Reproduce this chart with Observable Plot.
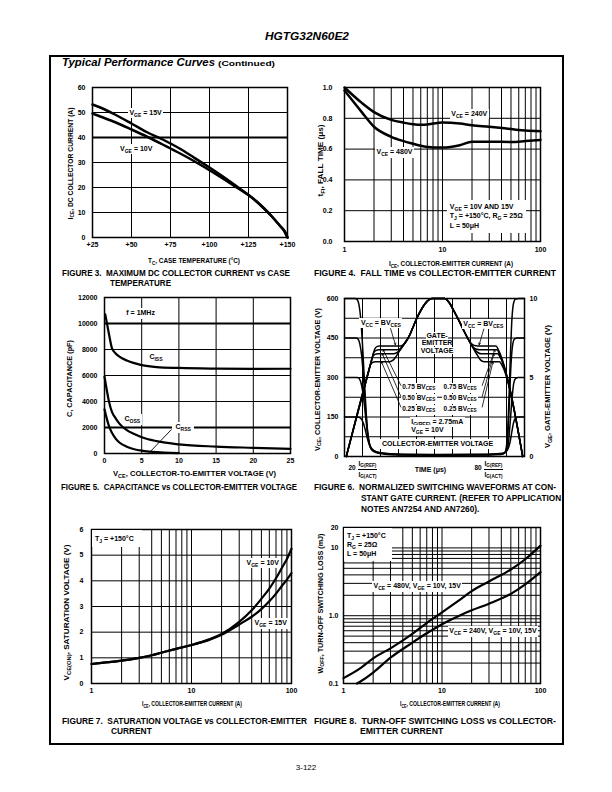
<!DOCTYPE html>
<html><head><meta charset="utf-8">
<script src="https://cdn.jsdelivr.net/npm/d3@7"></script>
<script src="https://cdn.jsdelivr.net/npm/@observablehq/plot@0.6"></script>
<style>
html,body{margin:0;padding:0;background:#fff;}
#page{position:relative;width:612px;height:792px;overflow:hidden;font-family:"Liberation Sans",Arial,Helvetica,sans-serif;color:#000;}
.lbl{position:absolute;white-space:nowrap;line-height:1;font-weight:bold;}
.lbl sub{font-size:72%;vertical-align:-0.3em;line-height:0;}
.frac{display:inline-block;vertical-align:middle;text-align:center;line-height:1.1;}
.frac .n{display:block;border-bottom:0.9px solid #000;padding:0 1px 1px;}
.frac .d{display:block;padding-top:1px;}
.box{position:absolute;border:2px solid #000;box-sizing:border-box;}
</style></head><body><div id="page"></div><script>
// ---------------- DATA ----------------
// Figure 3: max DC collector current vs case temperature
const fig3Temp = [25, 30, 40, 50, 60, 70, 75, 80, 90, 100, 110, 120, 125, 130, 135, 140, 145, 148, 150];
const fig3Vge15 = [53.2, 52.0, 49.0, 45.6, 42.1, 39.2, 37.6, 35.9, 32.0, 28.0, 23.8, 19.3, 17.0, 14.5, 11.6, 8.4, 4.8, 2.6, 0];
const fig3Vge10 = [49.6, 48.4, 46.0, 43.2, 40.3, 37.2, 35.6, 34.0, 30.6, 26.9, 23.0, 19.0, 17.0, 14.5, 11.6, 8.4, 4.8, 2.6, 0];
const fig3XTicks = [25, 50, 75, 100, 125, 150];
const fig3YTicks = [0, 10, 20, 30, 40, 50, 60];
const fig3GridX = [50, 75, 100, 125];
const fig3GridY = [10, 20, 30, 50];
const fig3BoldGridY = [40];

// Figure 4: fall time vs collector-emitter current
const fig4Ice = [1, 1.5, 2, 3, 4, 5, 6, 7, 8, 10, 15, 20, 30, 50, 70, 100];
const fig4Vce240 = [1.0, 0.9, 0.84, 0.79, 0.772, 0.762, 0.758, 0.76, 0.766, 0.772, 0.766, 0.755, 0.745, 0.73, 0.72, 0.716];
const fig4Vce480 = [0.98, 0.84, 0.745, 0.68, 0.652, 0.635, 0.622, 0.614, 0.61, 0.61, 0.625, 0.648, 0.648, 0.646, 0.652, 0.66];
const logTicks = [1, 10, 100];
const logGrid = [2, 3, 4, 5, 6, 7, 8, 9, 10, 20, 30, 40, 50, 60, 70, 80, 90];
const fig4YTicks = [0, 0.2, 0.4, 0.6, 0.8, 1.0];
const fig4GridY = [0.2, 0.4, 0.6, 0.8];

// Figure 5: capacitance vs VCE
const fig5Ciss = [[0.1, 10700], [0.5, 9500], [0.8, 8600], [1, 8100], [1.5, 7700], [2, 7450], [3, 7150], [4, 6950], [5, 6800], [7, 6650], [10, 6580], [15, 6530], [20, 6510], [25, 6520]];
const fig5Coss = [[0, 5900], [0.3, 4900], [0.6, 4000], [1, 3200], [1.5, 2700], [2, 2300], [3, 1800], [4, 1500], [5, 1250], [7, 950], [10, 700], [15, 530], [20, 440], [25, 360]];
const fig5Crss = [[0, 3400], [0.3, 2700], [0.6, 2100], [1, 1600], [1.5, 1150], [2, 850], [3, 520], [4, 330], [5, 220], [6, 150], [7, 100], [8, 60], [10, 30]];
const fig5XTicks = [0, 5, 10, 15, 20, 25];
const fig5YTicks = [0, 2000, 4000, 6000, 8000, 10000, 12000];
const fig5GridX = [5, 10, 15, 20];
const fig5GridY = [4000, 6000, 8000];
const fig5BoldGridY = [2000, 10000];
const fig5CrssLeader = [{x1: 9.0, y1: 1850, x2: 6.2, y2: 170}];

// Figure 6: normalized switching waveforms (time in grid units, VCE in V)
const fig6VceBV = [[0,600],[6,600],[7,596],[8,578],[9,525],[10,425],[11,295],[12,170],[13,85],[14,42],[15.5,22],[18,14],[22,9],[30,6],[50,5],[80,6],[87,8],[89,14],[90,40],[91,150],[92,350],[93,520],[94,585],[95,598],[97,600],[100,600]];
const fig6Vce75 = [[0,450],[6.5,450],[7.5,446],[8.5,428],[9.5,385],[10.5,305],[11.5,205],[12.5,115],[13.5,58],[15,30],[17,19],[21,12],[28,8],[50,6],[80,7],[87.5,10],[89.5,18],[90.5,55],[91.5,190],[92.5,350],[93.5,428],[94.5,447],[96,450],[100,450]];
const fig6Vce50 = [[0,300],[7,300],[8,297],[9,284],[10,252],[11,198],[12,133],[13,78],[14,44],[15.5,27],[18,17],[23,11],[30,8],[50,7],[80,8],[88,11],[90,22],[91,48],[92,125],[93,215],[94,278],[95,296],[96.5,300],[100,300]];
const fig6Vce25 = [[0,150],[7.5,150],[8.5,148],[9.5,141],[10.5,126],[11.5,102],[12.5,74],[13.5,50],[14.5,34],[16,23],[19,15],[24,11],[32,9],[50,8],[80,9],[88.5,12],[90.5,24],[92,55],[93,95],[94,130],[95,146],[96.5,150],[100,150]];
// gate voltage on the left scale (60 per volt)
const fig6GateBV = [[1,0],[15.5,377],[16.8,408],[18.2,418],[19.5,420],[31,420],[33,426],[35,444],[36.5,465],[38,490],[40,522],[43,562],[46,590],[48.5,600],[55.5,600],[58,586],[61,550],[64,510],[67,468],[68.5,448],[70,432],[72,422],[74,420],[84.2,420],[85.5,405],[99,0]];
const fig6Gate75 = [[1,0],[15,364],[16.3,395],[17.6,403],[19,405],[29,405],[31,410],[33.5,430],[36.5,465],[38,490],[40,522],[43,562],[46,590],[48.5,600],[55.5,600],[58,586],[61,550],[64,510],[67,468],[69.5,437],[71.5,415],[73.5,407],[75,405],[84.8,405],[86,390],[99,0]];
const fig6Gate50 = [[1,0],[14.5,351],[15.7,381],[17,388],[18.5,390],[27.5,390],[29.5,396],[32.5,420],[36.5,465],[38,490],[40,522],[43,562],[46,590],[48.5,600],[55.5,600],[58,586],[61,550],[64,510],[67,468],[70,430],[72.5,404],[74.5,393],[76,390],[85.2,390],[86.4,378],[99,0]];
const fig6Gate25 = [[1,0],[13.3,320],[14.5,350],[15.8,358],[17.3,360],[25,360],[27,366],[30.5,400],[33.5,432],[36.5,465],[38,490],[40,522],[43,562],[46,590],[48.5,600],[55.5,600],[58,586],[61,550],[64,510],[67,468],[70,430],[73,394],[75.5,367],[77,361],[78.5,360],[86.2,360],[87.4,348],[99,0]];
const fig6LeftTicks = [0, 150, 300, 450, 600];
const fig6RightTicks = [0, 300, 600];
const fig6GridX = [10, 20, 30, 40, 50, 60, 70, 80, 90];
const fig6GridY = [75, 150, 225, 300, 375, 450, 525];
const fig6Arrows = [
  {x1: 25.6, y1: 486, x2: 28.3, y2: 424}, {x1: 77.4, y1: 484, x2: 74.8, y2: 424},
  {x1: 31.3, y1: 270, x2: 21.5, y2: 405}, {x1: 31.3, y1: 228, x2: 21, y2: 390}, {x1: 31.3, y1: 188, x2: 20.5, y2: 360},
  {x1: 76.5, y1: 270, x2: 83.5, y2: 405}, {x1: 76.5, y1: 228, x2: 83, y2: 390}, {x1: 76.5, y1: 188, x2: 82.5, y2: 360}
];

// Figure 7: saturation voltage vs ICE
const fig7Ice = [1, 1.5, 2, 3, 4, 5, 7, 10, 15, 20, 30, 40, 50, 60, 70, 80, 90, 100];
const fig7Vge10 = [0.76, 0.83, 0.89, 1.0, 1.1, 1.2, 1.35, 1.5, 1.72, 1.93, 2.4, 2.85, 3.3, 3.7, 4.1, 4.5, 4.85, 5.25];
const fig7Vge15 = [0.76, 0.83, 0.89, 1.0, 1.1, 1.2, 1.35, 1.5, 1.7, 1.9, 2.3, 2.6, 2.9, 3.2, 3.5, 3.8, 4.05, 4.3];
const fig7YTicks = [0, 1, 2, 3, 4, 5, 6];
const fig7GridY = [1, 2, 3, 4, 5];

// Figure 8: turn-off switching loss vs ICE
const fig8Ice480 = [1, 1.5, 2, 3, 5, 7, 10, 15, 20, 30, 50, 70, 100];
const fig8Vce480 = [0.12, 0.17, 0.235, 0.33, 0.54, 0.78, 1.12, 1.7, 2.3, 3.2, 4.8, 6.8, 10.8];
const fig8Ice240 = [1.37, 1.5, 2, 3, 5, 7, 10, 15, 20, 30, 50, 70, 100];
const fig8Vce240 = [0.1, 0.108, 0.145, 0.24, 0.4, 0.55, 0.75, 1.0, 1.2, 1.5, 2.1, 2.9, 4.4];
const fig8YTicks = [0.1, 1, 10, 20];
const fig8GridY = [0.2, 0.3, 0.4, 0.5, 0.6, 0.7, 0.8, 0.9, 1, 2, 3, 4, 5, 6, 7, 8, 9, 10];

// ---------------- HELPERS ----------------
const page = document.getElementById('page');
const FONT = '"Liberation Sans", Arial, Helvetica, sans-serif';
const CAP = 9;   // caption font size
const TIT = 7;   // axis title font size
const ANN = 7;   // annotation font size

function txt(html, x, y, o = {}) {
  const d = document.createElement('div');
  d.className = 'lbl';
  d.innerHTML = html;
  d.style.fontSize = (o.size || ANN) + 'px';
  if (o.italic) d.style.fontStyle = 'italic';
  if (o.normal) d.style.fontWeight = 'normal';
  if (o.bg) { d.style.background = '#fff'; d.style.padding = o.pad || '1px 1.5px 2.5px 1.5px'; }
  if (o.lh) d.style.lineHeight = o.lh;
  page.appendChild(d);
  const r = d.getBoundingClientRect();
  const w = r.width, h = r.height;
  const sx = o.width ? o.width / w : (o.sx || 1);
  const ax = o.anchor === 'middle' ? 0.5 : o.anchor === 'end' ? 1 : 0;
  const ay = o.valign === 'top' ? 0 : 0.5;
  const dy = (o.bg && !o.pad) ? 0.75 : 0;
  if (o.rotate) {
    d.style.left = (x - w / 2) + 'px';
    d.style.top = (y - h / 2) + 'px';
    d.style.transformOrigin = '50% 50%';
    d.style.transform = `rotate(-90deg) scaleX(${sx})`;
  } else {
    d.style.left = (x - ax * w * sx) + 'px';
    d.style.top = (y - ay * h + dy) + 'px';
    d.style.transformOrigin = '0 0';
    d.style.transform = `scaleX(${sx})`;
  }
  return sx;
}

function mkPlot(box, cfg) {
  const p = Plot.plot({
    width: box.w, height: box.h,
    marginLeft: box.ml, marginRight: box.mr, marginTop: box.mt, marginBottom: box.mb,
    x: Object.assign({axis: null}, cfg.x), y: Object.assign({axis: null}, cfg.y),
    style: `font-family:${FONT};font-size:7px;font-weight:bold;background:transparent;overflow:visible;color:#000;`,
    marks: cfg.marks
  });
  p.style.position = 'absolute';
  p.style.left = box.left + 'px';
  p.style.top = box.top + 'px';
  page.appendChild(p);
  const sx = p.scale('x'), sy = p.scale('y');
  p.at = (xv, yv) => [box.left + sx.apply(xv), box.top + sy.apply(yv)];
  return p;
}
const pairs = (xs, ys) => xs.map((x, i) => ({x, y: ys[i]}));
const pts = (arr) => arr.map(([x, y]) => ({x, y}));
const G = {stroke: '#000', strokeWidth: 1};
const axX = (ticks, pad, fmt) => Plot.axisX({ticks, tickSize: 0, tickPadding: pad, tickFormat: fmt || (d => String(d)), label: null});
const axY = (ticks, pad, fmt, anchor) => Plot.axisY({ticks, anchor: anchor || 'left', tickSize: 0, tickPadding: pad, tickFormat: fmt || (d => String(d)), label: null});
const frame = Plot.frame({stroke: '#000', strokeWidth: 1.5});

// ---------------- PAGE ----------------
const fr = document.createElement('div'); fr.className = 'box';
Object.assign(fr.style, {left: '49px', top: '55px', width: '515px', height: '690px'});
page.appendChild(fr);
txt('HGTG32N60E2', 307, 37, {size: 11.5, italic: true, anchor: 'middle', width: 84});
txt('Typical Performance Curves', 62, 63, {size: 11.5, italic: true, width: 153});
txt('(Continued)', 218, 64, {size: 8, width: 57});
txt('3-122', 306, 768, {size: 8, normal: true, anchor: 'middle'});

// ---------- Figure 3 ----------
const p3 = mkPlot({left: 52, top: 80, w: 245, h: 175, ml: 40, mr: 10, mt: 7, mb: 18}, {
  x: {domain: [25, 150]}, y: {domain: [0, 60]},
  marks: [
    Plot.ruleX(fig3GridX, G), Plot.ruleY(fig3GridY, G), Plot.ruleY(fig3BoldGridY, {stroke: '#000', strokeWidth: 2.2}),
    frame,
    Plot.line(pairs(fig3Temp, fig3Vge15), {x: 'x', y: 'y', strokeWidth: 2.5, curve: 'monotone-x'}),
    Plot.line(pairs(fig3Temp, fig3Vge10), {x: 'x', y: 'y', strokeWidth: 2.5, curve: 'monotone-x'}),
    axX(fig3XTicks, 4.5, d => '+' + d), axY(fig3YTicks, 7)
  ]
});
{ let [x, y] = p3.at(48, 50); txt('V<sub>GE</sub> = 15V', x, y, {bg: true});
  [x, y] = p3.at(42, 35.5); txt('V<sub>GE</sub> = 10V', x, y, {bg: true}); }
txt('T<sub>C</sub>, CASE TEMPERATURE (°C)', 194, 260, {size: TIT, anchor: 'middle', width: 92});
txt('I<sub>CE</sub>, DC COLLECTOR CURRENT (A)', 70, 163, {size: TIT, rotate: true, width: 112});
{ const s = txt('FIGURE 3.&nbsp; MAXIMUM DC COLLECTOR CURRENT vs CASE', 62, 273, {size: CAP, width: 228});
  txt('TEMPERATURE', 110, 283, {size: CAP, sx: s}); }

// ---------- Figure 4 ----------
const p4 = mkPlot({left: 304, top: 80, w: 250, h: 175, ml: 40, mr: 14, mt: 7, mb: 14}, {
  x: {type: 'log', domain: [1, 100]}, y: {domain: [0, 1]},
  marks: [
    Plot.ruleX(logGrid, G), Plot.ruleY(fig4GridY, G), frame,
    Plot.line(pairs(fig4Ice, fig4Vce240), {x: 'x', y: 'y', strokeWidth: 2.5, curve: 'monotone-x'}),
    Plot.line(pairs(fig4Ice, fig4Vce480), {x: 'x', y: 'y', strokeWidth: 2.5, curve: 'monotone-x'}),
    axX(logTicks, 5.5), axY(fig4YTicks, 12, d3.format('.1f'))
  ]
});
{ let [x, y] = p4.at(12, 0.83); txt('V<sub>CE</sub> = 240V', x, y, {bg: true});
  [x, y] = p4.at(2.07, 0.578); txt('V<sub>CE</sub> = 480V', x, y, {bg: true});
  [x, y] = p4.at(11.2, 0.268); txt('V<sub>GE</sub> = 10V AND 15V<br>T<sub>J</sub> = +150°C, R<sub>G</sub> = 25Ω<br>L = 50μH', x, y, {bg: true, valign: 'top', lh: '9.5px', pad: '2px 3px 3px 3px'}); }
txt('I<sub>CE</sub>, COLLECTOR-EMITTER CURRENT (A)', 451, 263, {size: TIT, anchor: 'middle', width: 124});
txt('t<sub>FI</sub>, FALL TIME (μs)', 320.5, 160, {size: TIT, rotate: true, width: 72});
txt('FIGURE 4.&nbsp; FALL TIME vs COLLECTOR-EMITTER CURRENT', 314, 273, {size: CAP, width: 242});

// ---------- Figure 5 ----------
const p5 = mkPlot({left: 64, top: 290, w: 236, h: 180, ml: 40, mr: 10, mt: 7, mb: 17}, {
  x: {domain: [0, 25]}, y: {domain: [0, 12000]},
  marks: [
    Plot.ruleX(fig5GridX, G), Plot.ruleY(fig5GridY, G), Plot.ruleY(fig5BoldGridY, {stroke: '#000', strokeWidth: 2.2}),
    frame,
    Plot.line(pts(fig5Ciss), {x: 'x', y: 'y', strokeWidth: 2.2, curve: 'monotone-x'}),
    Plot.line(pts(fig5Coss), {x: 'x', y: 'y', strokeWidth: 2.2, curve: 'monotone-x'}),
    Plot.line(pts(fig5Crss), {x: 'x', y: 'y', strokeWidth: 2.2, curve: 'monotone-x'}),
    Plot.link(fig5CrssLeader, {x1: 'x1', y1: 'y1', x2: 'x2', y2: 'y2', stroke: '#000', strokeWidth: 0.9}),
    axX(fig5XTicks, 5), axY(fig5YTicks, 7)
  ]
});
{ let [x, y] = p5.at(2.8, 10770); txt('f = 1MHz', x, y, {bg: true});
  [x, y] = p5.at(5.9, 7400); txt('C<sub>ISS</sub>', x, y, {bg: true});
  [x, y] = p5.at(2.55, 2650); txt('C<sub>OSS</sub>', x, y, {bg: true});
  [x, y] = p5.at(9.2, 2000); txt('C<sub>RSS</sub>', x, y, {bg: true, pad: '1px 3px 3px 3px'}); }
txt('V<sub>CE</sub>, COLLECTOR-TO-EMITTER VOLTAGE (V)', 194, 473, {size: TIT, anchor: 'middle', width: 163});
txt('C, CAPACITANCE (pF)', 69, 378, {size: TIT, rotate: true, width: 77});
txt('FIGURE 5.&nbsp; CAPACITANCE vs COLLECTOR-EMITTER VOLTAGE', 61, 487, {size: CAP, width: 236});

// ---------- Figure 6 ----------
const p6 = mkPlot({left: 304, top: 290, w: 250, h: 175, ml: 40, mr: 30, mt: 8, mb: 9}, {
  x: {domain: [0, 100]}, y: {domain: [0, 600]},
  marks: [
    Plot.ruleX(fig6GridX, G), Plot.ruleY(fig6GridY, G), frame,
    ...[fig6VceBV, fig6Vce75, fig6Vce50, fig6Vce25, fig6GateBV, fig6Gate75, fig6Gate50, fig6Gate25].map(s =>
      Plot.line(pts(s), {x: 'x', y: 'y', strokeWidth: 1.5, curve: 'monotone-x'})),
    axY(fig6LeftTicks, 6), axY(fig6RightTicks, 5, d => String(d / 60), 'right')
  ]
});
{ const L = (html, xv, yv, o = {}) => { const [x, y] = p6.at(xv, yv); return txt(html, x, y, Object.assign({bg: true}, o)); };
  L('V<sub>CC</sub> = BV<sub>CES</sub>', 20.5, 508, {anchor: 'middle'});
  L('V<sub>CC</sub> = BV<sub>CES</sub>', 77.4, 505, {anchor: 'middle'});
  L('GATE-', 51.7, 458, {anchor: 'middle', pad: '0'});
  L('EMITTER', 51.7, 430, {anchor: 'middle', pad: '0'});
  L('VOLTAGE', 51.7, 402, {anchor: 'middle', pad: '0'});
  const bv = {size: 6.5};
  L('0.75 BV<sub>CES</sub>', 31.5, 260, bv); L('0.75 BV<sub>CES</sub>', 54.5, 260, bv);
  L('0.50 BV<sub>CES</sub>', 31.5, 218, bv); L('0.50 BV<sub>CES</sub>', 54.5, 218, bv);
  L('0.25 BV<sub>CES</sub>', 31.5, 177, bv); L('0.25 BV<sub>CES</sub>', 54.5, 177, bv);
  L('I<sub>G(REF)</sub> = 2.75mA', 36.5, 132);
  L('V<sub>GE</sub> = 10V', 36.5, 99);
  L('COLLECTOR-EMITTER VOLTAGE', 52, 48, {anchor: 'middle'});
  const yb = p6.at(0, 0)[1] + 13;
  const frac = '<span class="frac"><span class="n">I<sub>G(REF)</sub></span><span class="d">I<sub>G(ACT)</sub></span></span>';
  txt('20 ' + frac, p6.at(2.5, 0)[0], yb, {size: 6.5});
  txt('TIME (μs)', p6.at(48, 0)[0], yb, {anchor: 'middle'});
  txt('80 ' + frac, p6.at(72.5, 0)[0], yb, {size: 6.5});
}
{ const svg = Plot.plot({
    width: 250, height: 175, marginLeft: 40, marginRight: 30, marginTop: 8, marginBottom: 9,
    x: {domain: [0, 100], axis: null}, y: {domain: [0, 600], axis: null},
    style: 'background:transparent;overflow:visible;',
    marks: [Plot.arrow(fig6Arrows, {x1: 'x1', y1: 'y1', x2: 'x2', y2: 'y2', stroke: '#000', strokeWidth: 0.8, headLength: 3.5})]
  });
  Object.assign(svg.style, {position: 'absolute', left: '304px', top: '290px'});
  page.appendChild(svg); }
txt('V<sub>CE</sub>, COLLECTOR-EMITTER VOLTAGE (V)', 317, 379, {size: TIT, rotate: true, width: 143});
txt('V<sub>GE</sub>, GATE-EMITTER VOLTAGE (V)', 548, 386, {size: TIT, rotate: true, width: 123});
{ const s = txt('FIGURE 6.&nbsp; NORMALIZED SWITCHING WAVEFORMS AT CON-', 314, 487, {size: CAP, width: 242});
  txt('STANT GATE CURRENT. (REFER TO APPLICATION', 361, 498, {size: CAP, sx: s});
  txt('NOTES AN7254 AND AN7260).', 361, 509, {size: CAP, sx: s}); }

// ---------- Figure 7 ----------
const p7 = mkPlot({left: 51, top: 520, w: 250, h: 180, ml: 40, mr: 10, mt: 9, mb: 17}, {
  x: {type: 'log', domain: [1, 100]}, y: {domain: [0, 6]},
  marks: [
    Plot.ruleX(logGrid, G), Plot.ruleY(fig7GridY, G), frame,
    Plot.line(pairs(fig7Ice, fig7Vge10), {x: 'x', y: 'y', strokeWidth: 2.2, curve: 'monotone-x'}),
    Plot.line(pairs(fig7Ice, fig7Vge15), {x: 'x', y: 'y', strokeWidth: 2.2, curve: 'monotone-x'}),
    axX(logTicks, 5), axY(fig7YTicks, 8)
  ]
});
{ let [x, y] = p7.at(1, 6); txt('T<sub>J</sub> = +150°C', x + 1, y + 1, {bg: true, valign: 'top', pad: '5px 8px 5px 3px'});
  [x, y] = p7.at(34.7, 4.71); txt('V<sub>GE</sub> = 10V', x, y, {bg: true});
  [x, y] = p7.at(41.7, 2.34); txt('V<sub>GE</sub> = 15V', x, y, {bg: true}); }
txt('I<sub>CE</sub>, COLLECTOR-EMITTER CURRENT (A)', 192, 703, {size: TIT, anchor: 'middle', width: 100});
txt('V<sub>CE(ON)</sub>, SATURATION VOLTAGE (V)', 67, 612, {size: TIT, rotate: true, width: 136});
{ const s = txt('FIGURE 7.&nbsp; SATURATION VOLTAGE vs COLLECTOR-EMITTER', 62, 721, {size: CAP, width: 245});
  txt('CURRENT', 111, 731, {size: CAP, sx: s}); }

// ---------- Figure 8 ----------
const p8 = mkPlot({left: 303, top: 520, w: 250, h: 180, ml: 40, mr: 13, mt: 7, mb: 17}, {
  x: {type: 'log', domain: [1, 100]}, y: {type: 'log', domain: [0.1, 20]},
  marks: [
    Plot.ruleX(logGrid, G), Plot.ruleY(fig8GridY, G), frame,
    Plot.line(pairs(fig8Ice480, fig8Vce480), {x: 'x', y: 'y', strokeWidth: 2.2, curve: 'monotone-x'}),
    Plot.line(pairs(fig8Ice240, fig8Vce240), {x: 'x', y: 'y', strokeWidth: 2.2, curve: 'monotone-x'}),
    axX(logTicks, 5), axY(fig8YTicks, 5, d => d === 1 ? '1.0' : String(d))
  ]
});
{ let [x, y] = p8.at(1, 20); txt('T<sub>J</sub> = +150°C<br>R<sub>G</sub> = 25Ω<br>L = 50μH', x + 1, y + 1, {bg: true, valign: 'top', lh: '9px', pad: '3px 6px 3px 3px'});
  [x, y] = p8.at(1.97, 2.72); txt('V<sub>CE</sub> = 480V, V<sub>GE</sub> = 10V, 15V', x, y, {bg: true});
  [x, y] = p8.at(11.6, 0.585); txt('V<sub>CE</sub> = 240V, V<sub>GE</sub> = 10V, 15V', x, y, {bg: true}); }
txt('I<sub>CE</sub>, COLLECTOR-EMITTER CURRENT (A)', 450, 703, {size: TIT, anchor: 'middle', width: 100});
txt('W<sub>OFF</sub>, TURN-OFF SWITCHING LOSS (mJ)', 320, 603, {size: TIT, rotate: true, width: 140});
{ const s = txt('FIGURE 8.&nbsp; TURN-OFF SWITCHING LOSS vs COLLECTOR-', 314, 721, {size: CAP, width: 242});
  txt('EMITTER CURRENT', 360, 731, {size: CAP, sx: s}); }
</script></body></html>
